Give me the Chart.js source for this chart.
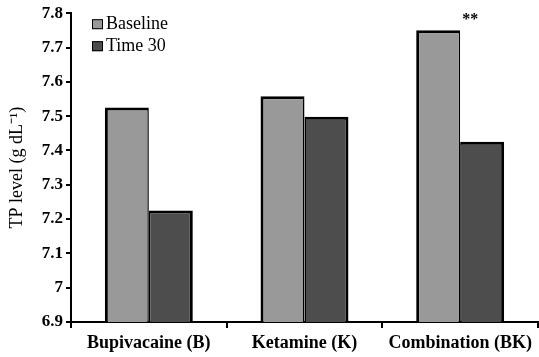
<!DOCTYPE html>
<html>
<head>
<meta charset="utf-8">
<script src="https://cdn.jsdelivr.net/npm/chart.js@4"></script>
<style>
  html, body { margin: 0; padding: 0; background: #fff; }
  #wrap { width: 539px; height: 357px; }
</style>
</head>
<body>
<div id="wrap"><canvas id="tpChart" width="539" height="357"></canvas></div>
<script>
const categories = ['Bupivacaine (B)', 'Ketamine (K)', 'Combination (BK)'];
const baseline = [7.525, 7.558, 7.75];
const time30 = [7.225, 7.498, 7.425];
const yTickLabels = ['6.9', '7', '7.1', '7.2', '7.3', '7.4', '7.5', '7.6', '7.7', '7.8'];
const marks = ['', '', '**'];

const serif = '"Liberation Serif", "Times New Roman", serif';

// legend drawn inside the plot, top left
const innerLegend = {
  id: 'innerLegend',
  afterDraw(chart) {
    const ctx = chart.ctx;
    const x0 = chart.chartArea.left + 21;
    const y0 = chart.chartArea.top + 6;
    ctx.save();
    chart.data.datasets.forEach((ds, i) => {
      const y = y0 + i * 22;
      ctx.fillStyle = ds.backgroundColor;
      ctx.fillRect(x0, y, 11, 10);
      ctx.strokeStyle = '#000';
      ctx.lineWidth = 1;
      ctx.strokeRect(x0 + 0.5, y + 0.5, 10, 9);
      ctx.fillStyle = '#000';
      ctx.font = '18px ' + serif;
      ctx.textBaseline = 'middle';
      ctx.fillText(ds.label, x0 + 14, y + 5);
    });
    ctx.restore();
  }
};

// significance stars above bars
const starMarks = {
  id: 'starMarks',
  afterDatasetsDraw(chart) {
    const ctx = chart.ctx;
    const xs = chart.scales.x, ys = chart.scales.y;
    ctx.save();
    ctx.fillStyle = '#000';
    ctx.font = 'bold 16px ' + serif;
    ctx.textAlign = 'center';
    ctx.textBaseline = 'alphabetic';
    marks.forEach((m, i) => {
      if (!m) return;
      ctx.fillText(m, xs.getPixelForValue(i) + 10, ys.getPixelForValue(baseline[i]) - 6);
    });
    ctx.restore();
  }
};

new Chart(document.getElementById('tpChart'), {
  type: 'bar',
  data: {
    labels: categories,
    datasets: [
      { label: 'Baseline', data: baseline, backgroundColor: '#999999', borderColor: '#000',
        borderWidth: { top: 3, left: 3, right: 1.5, bottom: 0 } },
      { label: 'Time 30', data: time30, backgroundColor: '#4d4d4d', borderColor: '#000',
        borderWidth: { top: 3, left: 1.5, right: 3, bottom: 0 } }
    ]
  },
  options: {
    responsive: false,
    animation: false,
    layout: { padding: { top: 11, right: 1, left: 0, bottom: 0 } },
    datasets: { bar: { categoryPercentage: 0.565, barPercentage: 1.0 } },
    plugins: {
      legend: { display: false },
      tooltip: { enabled: false }
    },
    scales: {
      x: {
        grid: { display: true, drawOnChartArea: false, color: '#000', lineWidth: 2, tickLength: 6, offset: true },
        border: { color: '#000', width: 2 },
        ticks: { color: '#000', font: { family: serif, size: 18, weight: 'bold' }, padding: 5, maxRotation: 0 },
        afterFit(scale) { scale.height = 35; }
      },
      y: {
        min: 6.9,
        max: 7.8,
        grid: { display: true, drawOnChartArea: false, color: '#000', lineWidth: 2, tickLength: 5 },
        border: { color: '#000', width: 2 },
        ticks: {
          stepSize: 0.1,
          color: '#000',
          font: { family: serif, size: 17, weight: 'bold' },
          padding: 3,
          callback: (v, i) => yTickLabels[i]
        },
        title: {
          display: true,
          text: 'TP level (g dL\u207B\u00B9)',
          color: '#000',
          font: { family: serif, size: 18 },
          padding: { top: 6, bottom: 0 }
        },
        afterFit(scale) { scale.width = 71; }
      }
    }
  },
  plugins: [innerLegend, starMarks]
});
</script>
</body>
</html>
